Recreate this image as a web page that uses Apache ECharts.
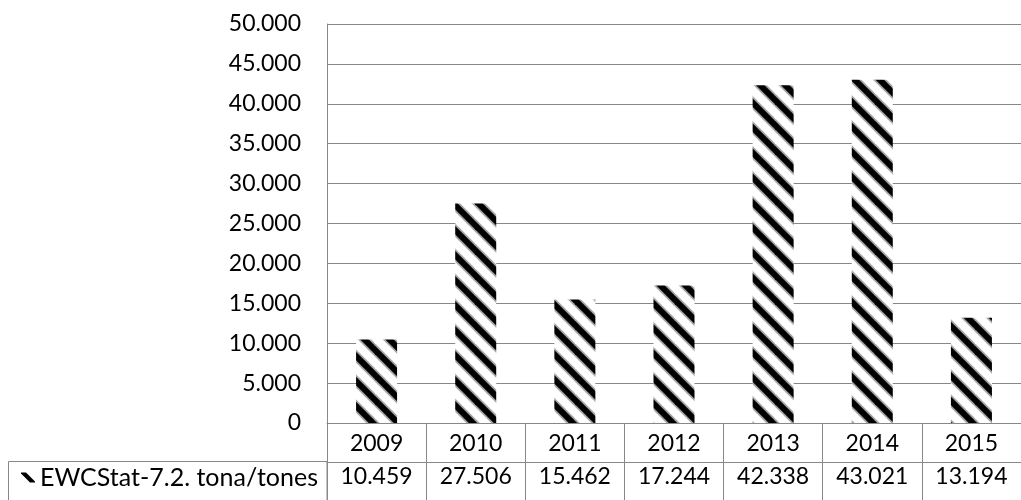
<!DOCTYPE html>
<html>
<head>
<meta charset="utf-8">
<script src="https://cdn.jsdelivr.net/npm/echarts@6/dist/echarts.min.js"></script>
<style>
  html, body { margin: 0; padding: 0; background: #fff; }
  #chart { width: 1021px; height: 500px; }
</style>
</head>
<body>
<div id="chart"></div>
<script>
// Yearly quantities, EWC-Stat 7.2 (tonnes)
const years = ['2009', '2010', '2011', '2012', '2013', '2014', '2015'];
const tonnes = [10459, 27506, 15462, 17244, 42338, 43021, 13194];
const seriesName = 'EWCStat-7.2. tona/tones';
const yTicks = { min: 0, max: 50000, step: 5000 };

const FONT = 'Lato';
const GRID_COLOR = '#888';

// Thousands separator as a dot: 27506 -> "27.506"
function fmt(n) {
  return String(Math.round(n)).replace(/\B(?=(\d{3})+(?!\d))/g, '.');
}

// Wide downward-diagonal hatch used as the bar fill
function stripePattern() {
  const P = 25;
  const c = document.createElement('canvas');
  c.width = P; c.height = P;
  const g = c.getContext('2d');
  g.fillStyle = '#fff';
  g.fillRect(0, 0, P, P);
  const draw = (w, col) => {
    g.strokeStyle = col;
    g.lineWidth = w;
    for (const k of [-P, 0, P]) {
      g.beginPath();
      g.moveTo(k - 6, -6);
      g.lineTo(k + P + 6, P + 6);
      g.stroke();
    }
  };
  draw(9.5, 'rgba(0,0,0,0.35)');
  draw(6, '#000');
  return c;
}

const chart = echarts.init(document.getElementById('chart'), null, { renderer: 'canvas' });

chart.setOption({
  animation: false,
  backgroundColor: '#fff',
  textStyle: { fontFamily: FONT },
  grid: { left: 327, top: 24, width: 702, height: 399, containLabel: false },
  legend: {
    show: true,
    left: 21,
    top: 465,
    padding: 0,
    itemWidth: 14,
    itemHeight: 10,
    itemGap: 5,
    icon: 'path://M0,0L5,0L14,9L14,10L9,10L0,1Z',
    itemStyle: { color: '#000' },
    textStyle: { fontFamily: FONT, fontSize: 25, lineHeight: 25, color: '#000' },
    selectedMode: false,
    data: [seriesName]
  },
  xAxis: [
    {
      type: 'category',
      data: years,
      position: 'bottom',
      axisLine: { show: true, onZero: false, lineStyle: { color: GRID_COLOR, width: 1 } },
      axisTick: { show: true, inside: false, length: 90, alignWithLabel: false, interval: 0,
                  lineStyle: { color: GRID_COLOR, width: 1 } },
      axisLabel: { show: true, interval: 0, margin: 21, verticalAlign: 'middle',
                   fontFamily: FONT, fontSize: 23, color: '#000' },
      splitLine: { show: false }
    },
    {
      // data-table row carrying the values under each year
      type: 'category',
      data: years,
      position: 'bottom',
      offset: 39,
      axisLine: { show: true, onZero: false, lineStyle: { color: GRID_COLOR, width: 1 } },
      axisTick: { show: false },
      axisLabel: { show: true, interval: 0, margin: 15, verticalAlign: 'middle',
                   fontFamily: FONT, fontSize: 23, color: '#000',
                   formatter: (v, i) => fmt(tonnes[i]) },
      splitLine: { show: false }
    }
  ],
  yAxis: {
    type: 'value',
    min: yTicks.min,
    max: yTicks.max,
    interval: yTicks.step,
    axisLine: { show: true, lineStyle: { color: GRID_COLOR, width: 1 } },
    axisTick: { show: false },
    splitLine: { show: true, lineStyle: { color: GRID_COLOR, width: 1 } },
    axisLabel: { margin: 26, fontFamily: FONT, fontSize: 23, color: '#000',
                 formatter: v => fmt(v) }
  },
  graphic: [
    {
      // legend-key cell of the data table
      type: 'rect',
      silent: true,
      shape: { x: 8.5, y: 461.5, width: 318.5, height: 60 },
      style: { fill: null, stroke: GRID_COLOR, lineWidth: 1 }
    }
  ],
  series: [
    {
      name: seriesName,
      type: 'bar',
      xAxisIndex: 0,
      yAxisIndex: 0,
      barWidth: 41,
      data: tonnes,
      silent: true,
      itemStyle: { color: { image: stripePattern(), repeat: 'repeat' } },
      emphasis: { disabled: true }
    }
  ]
});
</script>
</body>
</html>
